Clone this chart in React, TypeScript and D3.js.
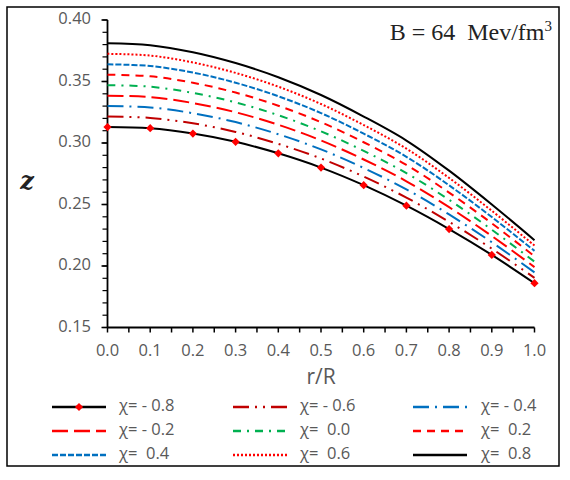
import React from "react";
import * as d3 from "d3";

// r/R sample points
const rR = [0.0, 0.1, 0.2, 0.3, 0.4, 0.5, 0.6, 0.7, 0.8, 0.9, 1.0];

// z values for each chi
const zM08 = [0.313, 0.312, 0.3077, 0.301, 0.2916, 0.28, 0.2657, 0.249, 0.23, 0.209, 0.186];
const zM06 = [0.3215, 0.3204, 0.316, 0.309, 0.2993, 0.2874, 0.2727, 0.2556, 0.2359, 0.2141, 0.1904];
const zM04 = [0.33, 0.3289, 0.3242, 0.317, 0.3071, 0.2948, 0.2797, 0.2623, 0.2419, 0.2193, 0.1948];
const zM02 = [0.3385, 0.3373, 0.3325, 0.325, 0.3148, 0.3021, 0.2866, 0.2689, 0.2478, 0.2244, 0.1991];
const z00 = [0.347, 0.3458, 0.3407, 0.333, 0.3226, 0.3095, 0.2936, 0.2755, 0.2538, 0.2295, 0.2035];
const zP02 = [0.3555, 0.3542, 0.349, 0.341, 0.3303, 0.3169, 0.3006, 0.2822, 0.2597, 0.2347, 0.2079];
const zP04 = [0.364, 0.3626, 0.3573, 0.349, 0.338, 0.3243, 0.3076, 0.2888, 0.2656, 0.2398, 0.2123];
const zP06 = [0.3725, 0.3711, 0.3655, 0.357, 0.3458, 0.3317, 0.3146, 0.2954, 0.2716, 0.2449, 0.2166];
const zP08 = [0.381, 0.3795, 0.3738, 0.365, 0.3535, 0.339, 0.3215, 0.302, 0.2775, 0.25, 0.221];

const chiLabels = ["χ= - 0.8", "χ= - 0.6", "χ= - 0.4", "χ= - 0.2", "χ=  0.0", "χ=  0.2", "χ=  0.4", "χ=  0.6", "χ=  0.8"];

const xTicks = [0, 0.1, 0.2, 0.3, 0.4, 0.5, 0.6, 0.7, 0.8, 0.9, 1.0];
const yTicks = [0.15, 0.2, 0.25, 0.3, 0.35, 0.4];

const series = [
  { label: chiLabels[0], z: zM08, color: "#000000", dash: null, marker: true },
  { label: chiLabels[1], z: zM06, color: "#C00000", dash: "16,6,2,6,2,6", marker: false },
  { label: chiLabels[2], z: zM04, color: "#0070C0", dash: "16,6,2,6", marker: false },
  { label: chiLabels[3], z: zM02, color: "#FF0000", dash: "16,6", marker: false },
  { label: chiLabels[4], z: z00, color: "#00B050", dash: "8,6,2,6", marker: false },
  { label: chiLabels[5], z: zP02, color: "#FF0000", dash: "8,6", marker: false },
  { label: chiLabels[6], z: zP04, color: "#0070C0", dash: "6,2", marker: false },
  { label: chiLabels[7], z: zP06, color: "#FF0000", dash: "2,2", marker: false },
  { label: chiLabels[8], z: zP08, color: "#000000", dash: null, marker: false },
];

const W = 570;
const H = 480;
const font = "'Open Sans', 'Liberation Sans', sans-serif";
const grey = "#595959";

export default function App() {
  const x = d3.scaleLinear().domain([0, 1]).range([107.5, 534.5]);
  const y = d3.scaleLinear().domain([0.15, 0.4]).range([327.5, 20]);

  const line = d3
    .line<[number, number]>()
    .x((d) => x(d[0]))
    .y((d) => y(d[1]))
    .curve(d3.curveCatmullRom.alpha(0.5));

  // square turned 45 degrees = Excel-style diamond
  const diamond = d3.symbol().type(d3.symbolSquare).size(34)();

  const yMinor = d3.range(15, 41).map((v) => v / 100);
  const xMinor = d3.range(0, 21).map((v) => v / 20);

  const legendCols = [
    { x1: 52, x2: 106, tx: 119 },
    { x1: 233, x2: 287, tx: 300 },
    { x1: 413, x2: 467, tx: 481 },
  ];
  const legendRows = [407, 431, 455];

  return (
    <svg
      width={W}
      height={H}
      style={{ position: "absolute", left: 0, top: 0, background: "#fff" }}
    >
      <rect x={7} y={7} width={552} height={459} fill="#fff" stroke="#000" strokeWidth={1.5} />

      {/* y axis */}
      <line x1={x(0)} x2={x(0)} y1={y(0.4)} y2={y(0.15)} stroke="#000" strokeWidth={1.8} />
      {yMinor.map((v) => (
        <line key={"ym" + v} x1={x(0) - 5} x2={x(0)} y1={y(v)} y2={y(v)} stroke="#000" strokeWidth={1.2} />
      ))}
      {yTicks.map((v) => (
        <g key={"yt" + v}>
          <line x1={x(0) - 6} x2={x(0)} y1={y(v)} y2={y(v)} stroke="#000" strokeWidth={1.5} />
          <text
            x={91}
            y={y(v)}
            textAnchor="end"
            dominantBaseline="middle"
            fontFamily={font}
            fontSize={16.5}
            fill={grey}
          >
            {d3.format(".2f")(v)}
          </text>
        </g>
      ))}

      {/* x axis */}
      <line x1={x(0)} x2={x(1)} y1={y(0.15)} y2={y(0.15)} stroke="#000" strokeWidth={1.8} />
      {xMinor.map((v) => (
        <line key={"xm" + v} x1={x(v)} x2={x(v)} y1={y(0.15)} y2={y(0.15) + 5} stroke="#000" strokeWidth={1.5} />
      ))}
      {xTicks.map((v) => (
        <text
          key={"xt" + v}
          x={x(v)}
          y={352}
          textAnchor="middle"
          dominantBaseline="middle"
          fontFamily={font}
          fontSize={16.5}
          fill={grey}
        >
          {d3.format(".1f")(v)}
        </text>
      ))}
      <text x={321} y={378} textAnchor="middle" dominantBaseline="middle" fontFamily={font} fontSize={21} fill={grey}>
        r/R
      </text>
      <text
        x={27}
        y={189}
        textAnchor="middle"
        fontFamily="'DejaVu Serif', serif"
        fontStyle="italic"
        fontWeight="bold"
        fontSize={24}
        fill="#222"
      >
        z
      </text>

      {/* annotation */}
      <text
        x={552}
        y={40}
        textAnchor="end"
        fontFamily="'Liberation Serif', 'DejaVu Serif', serif"
        fontSize={24}
        fill="#222"
        style={{ whiteSpace: "pre" }}
      >
        B = 64  Mev/fm<tspan fontSize={15} dy={-9}>3</tspan>
      </text>

      {/* curves */}
      {series
        .slice()
        .reverse()
        .map((s) => (
          <path
            key={s.label}
            d={line(rR.map((r, i) => [r, s.z[i]]))!}
            fill="none"
            stroke={s.color}
            strokeWidth={2}
            strokeDasharray={s.dash ?? undefined}
          />
        ))}
      {rR.map((r, i) => (
        <path
          key={"mk" + r}
          d={diamond!}
          transform={`translate(${x(r)},${y(zM08[i])}) rotate(45)`}
          fill="#FF0000"
        />
      ))}

      {/* legend */}
      {series.map((s, i) => {
        const c = legendCols[i % 3];
        const ry = legendRows[Math.floor(i / 3)];
        return (
          <g key={"lg" + s.label}>
            <line
              x1={c.x1}
              x2={c.x2}
              y1={ry}
              y2={ry}
              stroke={s.color}
              strokeWidth={2.5}
              strokeDasharray={s.dash ?? undefined}
            />
            {s.marker && (
              <path
                d={diamond!}
                transform={`translate(${(c.x1 + c.x2) / 2},${ry}) rotate(45)`}
                fill="#FF0000"
              />
            )}
            <text
              x={c.tx}
              y={ry}
              dominantBaseline="middle"
              fontFamily={font}
              fontSize={16.5}
              fill={grey}
              style={{ whiteSpace: "pre" }}
            >
              {s.label}
            </text>
          </g>
        );
      })}
    </svg>
  );
}
